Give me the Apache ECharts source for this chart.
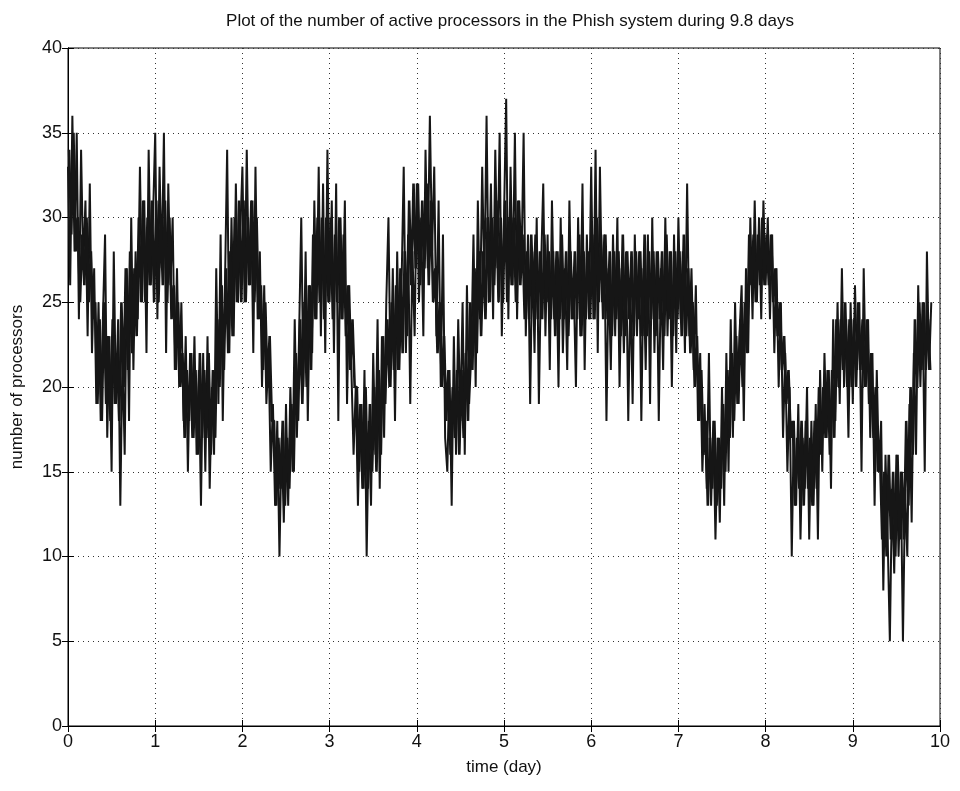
<!DOCTYPE html>
<html>
<head>
<meta charset="utf-8">
<script src="https://cdn.jsdelivr.net/npm/echarts@6/dist/echarts.min.js"></script>
<style>html,body{margin:0;padding:0;background:#fff}#c{width:960px;height:791px}</style>
</head>
<body>
<div id="c"></div>
<script>
const titleText = "Plot of the number of active processors in the Phish system during 9.8 days";
const xLabel = "time (day)";
const yLabel = "number of processors";
const xTicks = [0,1,2,3,4,5,6,7,8,9,10];
const yTicks = [0,5,10,15,20,25,30,35,40];
const sampleStep = 0.025; // days between samples of each array
// samples at t = day + i*sampleStep (excursions)
const day0 = [33,26,36,28,35,24,34,27,31,23,32,22,27,19,25,18,24,29,17,23,15,28,19,24,13,22,16,27,18,30,21,28,24,33,25,31,22,34,26,30];
const day1 = [35,24,33,27,35,22,32,26,30,21,27,20,25,18,23,15,22,17,23,16,21,13,22,15,23,14,20,16,27,19,29,18,26,34,22,30,23,32,25,29];
const day2 = [33,25,34,26,31,22,33,24,28,20,26,19,22,15,19,13,18,10,17,12,19,13,20,15,24,17,23,30,20,28,18,26,22,31,24,33,23,32,22,34];
const day3 = [25,31,22,32,18,30,24,31,19,26,21,16,20,13,19,14,21,10,18,13,22,16,24,14,23,17,25,30,20,27,18,28,21,26,33,22,29,19,28,23];
const day4 = [32,25,30,23,34,27,36,28,33,23,31,20,29,17,15,21,13,23,16,24,18,25,16,26,19,22,29,20,31,24,33,26,36,25,32,24,34,27,35,23];
const day5 = [30,37,24,33,26,35,24,31,27,35,23,29,19,28,22,30,19,27,32,23,29,21,31,24,28,20,30,22,27,21,31,24,26,20,30,23,32,21,29,24];
const day6 = [33,24,34,22,33,25,29,18,27,21,29,23,30,20,27,22,28,18,26,19,29,23,28,18,27,21,29,19,30,22,28,18,27,21,30,23,28,20,29,22];
const day7 = [30,24,28,22,32,23,27,21,26,18,22,15,19,14,22,13,18,11,17,12,20,13,22,15,24,17,25,19,23,26,18,27,22,30,24,31,25,30,24,31];
const day8 = [26,30,24,29,22,27,20,25,17,22,15,20,10,18,13,19,11,17,14,20,11,18,13,19,11,21,15,22,17,21,14,24,18,25,19,27,20,24,17,25];
const day9 = [19,26,21,25,15,27,20,24,17,22,13,21,15,18,8,16,11,5,14,9,16,10,15,5,14,10,19,12,22,16,26,20,25,15,28,21,25];
// samples half a step later (dense core of the band)
const day0c = [34,29,35,28,30,25,29,26,30,25,28,24,25,19,24,18,25,19,23,18,24,19,22,18,25,20,27,21,28,22,27,23,30,25,31,25,30,26,31,25];
const day1c = [31,25,30,26,31,25,30,24,26,21,25,20,22,17,21,18,22,17,21,16,22,17,21,17,22,16,21,17,24,20,26,21,27,22,28,23,30,25,31,25];
const day2c = [31,25,30,26,31,25,30,24,26,21,25,20,23,18,18,13,17,14,18,13,17,14,19,15,22,18,24,19,25,20,26,21,29,24,30,25,30,24,30,25];
const day3c = [30,24,29,25,30,24,29,23,26,21,24,20,20,15,19,14,20,14,19,15,20,15,21,16,23,19,24,20,25,21,26,21,27,22,28,23,31,26,32,27];
const day4c = [32,26,31,27,32,26,31,25,27,22,25,20,23,18,21,16,20,17,21,16,21,17,22,18,25,21,27,22,28,23,28,24,30,25,30,26,31,25,30,25];
const day5c = [31,25,30,26,30,25,31,26,29,24,28,24,29,25,29,24,28,24,29,25,28,24,28,23,28,24,29,24,28,23,28,24,28,24,29,23,28,24,28,24];
const day6c = [29,24,30,25,29,24,29,24,28,23,28,24,28,23,29,23,28,24,28,23,28,24,28,23,29,23,28,24,28,23,28,24,28,23,29,24,28,23,28,24];
const day7c = [28,23,29,23,27,22,25,20,23,18,21,16,18,13,17,14,18,13,17,14,19,15,21,17,22,18,23,19,24,20,25,22,29,26,29,25,29,26,30,26];
const day8c = [29,26,29,25,27,23,25,21,23,19,21,17,18,13,17,14,18,13,18,14,17,13,18,14,20,16,20,17,21,16,21,17,24,20,24,21,25,20,24,20];
const day9c = [24,20,25,21,24,20,24,19,22,17,20,15,16,11,15,10,16,11,15,10,16,11,15,11,18,13,20,16,24,20,25,21,25,21,24,21];

const days = [day0,day1,day2,day3,day4,day5,day6,day7,day8,day9];
const cores = [day0c,day1c,day2c,day3c,day4c,day5c,day6c,day7c,day8c,day9c];
const extData = [], coreData = [];
days.forEach((arr, d) => arr.forEach((v, i) => extData.push([+(d + i * sampleStep).toFixed(4), v])));
cores.forEach((arr, d) => arr.forEach((v, i) => coreData.push([+(d + i * sampleStep + sampleStep / 2).toFixed(4), v])));

const font = "Liberation Sans, Arial, Helvetica, sans-serif";
const chart = echarts.init(document.getElementById('c'), null, {renderer:'canvas'});
const gridLine = {show:true, lineStyle:{color:'#333', type:[1,4], width:1}};
const lineColor = '#161616';
chart.setOption({
  backgroundColor:'#fff',
  animation:false,
  title:{text:titleText, left:505, top:8, textAlign:'center',
    textStyle:{fontFamily:font, fontSize:17, fontWeight:'normal', color:'#111'}},
  grid:{left:68, right:20, top:48, bottom:65, show:true, borderColor:'#000', borderWidth:1, containLabel:false},
  xAxis:[{
    type:'value', min:0, max:10, interval:1,
    name:xLabel, nameLocation:'middle', nameGap:33,
    nameTextStyle:{fontFamily:font, fontSize:17, color:'#111'},
    axisLine:{show:true, lineStyle:{color:'#000'}},
    axisTick:{show:true, inside:true, length:6, lineStyle:{color:'#000'}},
    axisLabel:{fontFamily:font, fontSize:18, color:'#111', margin:7, formatter:v=>xTicks.includes(v)?String(v):''},
    splitLine:gridLine
  },{
    type:'value', min:0, max:10, interval:1, position:'top',
    axisLine:{show:true, lineStyle:{color:'#000'}},
    axisTick:{show:true, inside:true, length:6, lineStyle:{color:'#000'}},
    axisLabel:{show:false}, splitLine:{show:false}
  }],
  yAxis:[{
    type:'value', min:0, max:40, interval:5,
    name:yLabel, nameLocation:'middle', nameGap:42, nameRotate:90,
    nameTextStyle:{fontFamily:font, fontSize:17, color:'#111'},
    axisLine:{show:true, lineStyle:{color:'#000'}},
    axisTick:{show:true, inside:true, length:6, lineStyle:{color:'#000'}},
    axisLabel:{fontFamily:font, fontSize:18, color:'#111', margin:6, formatter:v=>yTicks.includes(v)?String(v):''},
    splitLine:gridLine
  },{
    type:'value', min:0, max:40, interval:5, position:'right',
    axisLine:{show:true, lineStyle:{color:'#000'}},
    axisTick:{show:true, inside:true, length:6, lineStyle:{color:'#000'}},
    axisLabel:{show:false}, splitLine:{show:false}
  }],
  series:[{
    type:'line', data:extData, showSymbol:false, symbol:'none',
    lineStyle:{color:lineColor, width:2, join:'bevel'}
  },{
    type:'line', data:coreData, showSymbol:false, symbol:'none',
    lineStyle:{color:lineColor, width:2.6, join:'bevel'}
  }]
});
</script>
</body>
</html>
